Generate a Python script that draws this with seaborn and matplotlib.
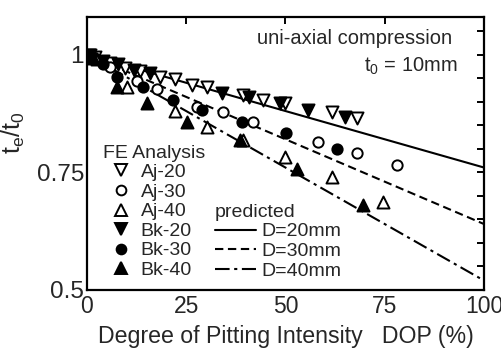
import numpy as np
import pandas as pd
import matplotlib
matplotlib.use("Agg")
import matplotlib.pyplot as plt
from matplotlib.lines import Line2D
from matplotlib.ticker import MultipleLocator, FixedLocator
import seaborn as sns

# ---- data ----
aj20_x = [0.5, 2.0, 5.8, 9.6, 13.4, 18.4, 22.2, 26.4, 30.2, 39.3, 44.3, 49.9, 61.7, 68.0]
aj20_y = [1.0, 0.994, 0.983, 0.972, 0.964, 0.953, 0.947, 0.936, 0.932, 0.913, 0.904, 0.898, 0.877, 0.866]
bk20_x = [0.8, 4.0, 7.8, 12.0, 15.9, 34.0, 40.8, 48.6, 55.7, 65.0]
bk20_y = [0.998, 0.987, 0.979, 0.968, 0.960, 0.919, 0.909, 0.898, 0.883, 0.868]
aj30_x = [1.5, 5.8, 12.6, 17.6, 27.7, 34.3, 41.8, 58.2, 68.0, 78.1]
aj30_y = [0.995, 0.974, 0.943, 0.926, 0.889, 0.877, 0.857, 0.815, 0.791, 0.766]
bk30_x = [1.0, 4.0, 7.6, 14.1, 21.7, 29.0, 39.0, 50.1, 63.0]
bk30_y = [0.997, 0.979, 0.953, 0.930, 0.904, 0.883, 0.857, 0.834, 0.800]
aj40_x = [2.5, 10.1, 22.2, 30.2, 39.3, 49.9, 61.7, 74.6]
aj40_y = [0.990, 0.932, 0.879, 0.847, 0.819, 0.783, 0.740, 0.687]
bk40_x = [1.5, 7.6, 15.1, 25.2, 38.5, 52.9, 69.5]
bk40_y = [0.992, 0.930, 0.898, 0.857, 0.819, 0.757, 0.681]

pred_x = [0, 100]
pred_d20 = [1.0, 0.76]
pred_d30 = [1.0, 0.64]
pred_d40 = [1.0, 0.52]

fe_labels = ["Aj-20", "Aj-30", "Aj-40", "Bk-20", "Bk-30", "Bk-40"]
pred_labels = ["D=20mm", "D=30mm", "D=40mm"]
x_ticks = [0, 25, 50, 75, 100]
y_ticks = [0.5, 0.75, 1.0]
y_tick_labels = ["0.5", "0.75", "1"]

# ---- style ----
sns.set_theme(style="white")
plt.rcParams["font.family"] = ["Liberation Sans", "DejaVu Sans"]
plt.rcParams["mathtext.fontset"] = "custom"
plt.rcParams["mathtext.rm"] = "Liberation Sans"
plt.rcParams["mathtext.it"] = "Liberation Sans"

fig = plt.figure(figsize=(5.02, 3.51), dpi=100)
ax = fig.add_axes([0.173, 0.174, 0.791, 0.778])

# predicted lines
line_styles = ["-", (0, (4, 2.2)), (0, (7, 2.2, 1.5, 2.2))]
for yy, ls in zip([pred_d20, pred_d30, pred_d40], line_styles):
    sns.lineplot(x=pred_x, y=yy, ax=ax, color="black", lw=1.5, linestyle=ls)

# FE points
series = [
    (aj20_x, aj20_y, "v", False),
    (aj30_x, aj30_y, "o", False),
    (aj40_x, aj40_y, "^", False),
    (bk20_x, bk20_y, "v", True),
    (bk30_x, bk30_y, "o", True),
    (bk40_x, bk40_y, "^", True),
]
sizes = {"v": 75, "^": 75, "o": 55}
for xs, ys, m, filled in series:
    sns.scatterplot(x=xs, y=ys, ax=ax, marker=m, s=sizes[m],
                    facecolor="black" if filled else "white",
                    edgecolor="black", linewidth=1.4, zorder=3)

ax.set_xlim(0, 100)
ax.set_ylim(0.5, 1.08)
ax.xaxis.set_major_locator(FixedLocator(x_ticks))
ax.yaxis.set_major_locator(FixedLocator(y_ticks))
ax.set_yticklabels(y_tick_labels)
ax.yaxis.set_minor_locator(MultipleLocator(0.05))
ax.tick_params(axis="both", which="both", direction="in", top=True, right=True,
               color="black", width=1.4)
ax.tick_params(axis="y", which="major", length=5, labelsize=17.5, pad=2)
ax.tick_params(axis="x", which="major", length=5, labelsize=16.5, pad=4)
ax.tick_params(axis="y", which="minor", length=5)
for sp in ax.spines.values():
    sp.set_color("black")
    sp.set_linewidth(1.6)

ax.set_xlabel("Degree of Pitting Intensity   DOP (%)", fontsize=16.7, labelpad=5)
ax.set_ylabel(r"$\mathregular{t_e/t_0}$", fontsize=18, labelpad=4)
ax.yaxis.set_label_coords(-0.15, 0.575)

ax.text(0.919, 0.919, "uni-axial compression", transform=ax.transAxes,
        ha="right", va="center", fontsize=14.5)
ax.text(0.934, 0.817, r"$\mathregular{t_0}$ = 10mm", transform=ax.transAxes,
        ha="right", va="center", fontsize=14.5)

# legends
fe_handles = []
for (xs, ys, m, filled), lab in zip(series, fe_labels):
    fe_handles.append(Line2D([], [], linestyle="none", marker=m,
                             markersize=8.5 if m != "o" else 7.0,
                             markerfacecolor="black" if filled else "white",
                             markeredgecolor="black", markeredgewidth=1.4, label=lab))
leg1 = ax.legend(handles=fe_handles, title="FE Analysis", loc="upper left",
                 bbox_to_anchor=(0.04, 0.532), frameon=False, fontsize=14,
                 title_fontsize=14, handlelength=1.9, handletextpad=0.05,
                 labelspacing=0.1, borderaxespad=0, borderpad=0)
leg1._legend_box.align = "left"
ax.add_artist(leg1)

pred_handles = [Line2D([], [], color="black", lw=1.5, linestyle=ls, label=lab)
                for ls, lab in zip(line_styles, pred_labels)]
leg2 = ax.legend(handles=pred_handles, title="predicted", loc="upper left",
                 bbox_to_anchor=(0.322, 0.315), frameon=False, fontsize=14,
                 title_fontsize=14, handlelength=2.1, handletextpad=0.3,
                 labelspacing=0.1, borderaxespad=0, borderpad=0)
leg2._legend_box.align = "left"

fig.savefig("out.png", dpi=100)
